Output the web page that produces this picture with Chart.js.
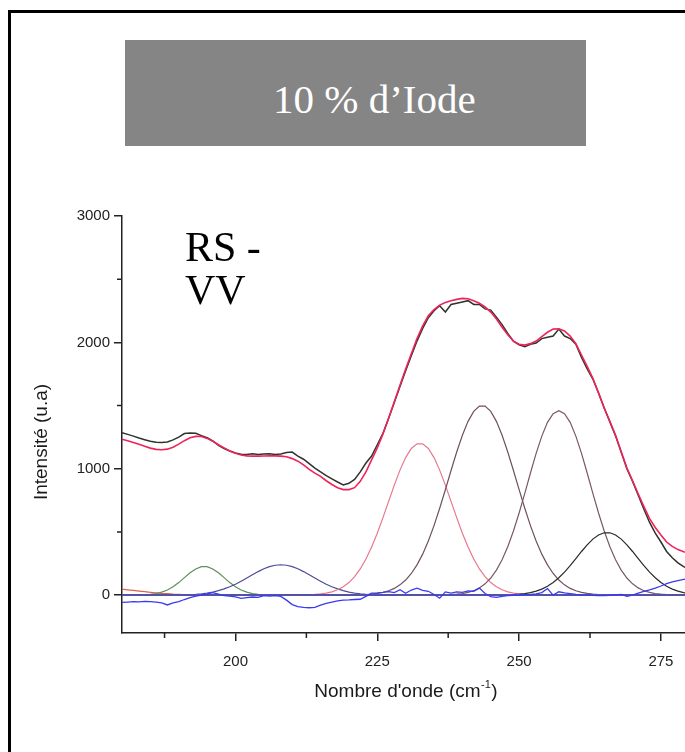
<!DOCTYPE html>
<html><head><meta charset="utf-8">
<script src="https://cdn.jsdelivr.net/npm/chart.js@4.4.1/dist/chart.umd.min.js"></script>
<style>
html,body{margin:0;padding:0;background:#fff;overflow:hidden;width:685px;height:752px;}
#frame{position:absolute;left:8px;top:10px;width:800px;height:800px;border-left:3px solid #000;border-top:3px solid #000;}
#banner{position:absolute;left:125px;top:40px;width:461px;height:106px;background:#858585;}
#banner span{position:absolute;left:148px;top:0;white-space:nowrap;color:#fff;font-family:'Liberation Serif','Times New Roman',serif;font-size:41px;line-height:118px;}
#label{position:absolute;left:185px;top:226px;font-family:'Liberation Serif','Times New Roman',serif;font-size:42px;line-height:43px;color:#000;}
#wrap{position:absolute;left:0;top:0;width:700px;height:752px;}
</style>
</head>
<body>
<div id="frame"></div>
<div id="banner"><span>10 % d’Iode</span></div>
<div id="wrap"><canvas id="c" width="700" height="752"></canvas></div>
<div id="label">RS -<br>VV</div>
<script>
// ---------- data ----------
const wavenumbers = [
180,181,182,183,184,185,186,187,188,189,
190,191,192,193,194,195,196,197,198,199,
200,201,202,203,204,205,206,207,208,209,
210,211,212,213,214,215,216,217,218,219,
220,221,222,223,224,225,226,227,228,229,
230,231,232,233,234,235,236,237,238,239,
240,241,242,243,244,245,246,247,248,249,
250,251,252,253,254,255,256,257,258,259,
260,261,262,263,264,265,266,267,268,269,
270,271,272,273,274,275,276,277,278,279,
280];

const experimental = [
1285,1272,1258,1243,1230,1218,1210,1208,1212,1228,
1250,1278,1282,1280,1262,1245,1220,1185,1160,1140,
1125,1115,1113,1118,1112,1116,1118,1113,1116,1128,
1132,1100,1075,1040,1005,975,945,920,895,872,
885,915,975,1045,1100,1190,1280,1400,1525,1650,
1775,1895,2010,2110,2195,2250,2290,2240,2300,2310,
2320,2330,2300,2300,2265,2255,2200,2140,2070,2010,
1980,1965,1985,1995,2030,2040,2050,2105,2050,2030,
1985,1880,1790,1710,1600,1480,1370,1260,1130,1000,
900,790,680,575,490,420,345,295,255,225,
205];

const fitSum = [
1233,1222,1208,1193,1178,1163,1153,1150,1155,1170,
1195,1222,1245,1256,1255,1240,1218,1190,1165,1140,
1122,1108,1102,1100,1100,1101,1102,1102,1100,1095,
1080,1060,1030,995,965,940,905,875,850,835,
835,850,900,975,1070,1165,1275,1400,1530,1660,
1790,1910,2030,2130,2210,2260,2295,2315,2330,2340,
2348,2345,2330,2310,2280,2240,2185,2120,2060,2010,
1985,1978,1990,2010,2045,2080,2105,2108,2090,2050,
1990,1900,1810,1715,1600,1480,1375,1265,1135,1005,
905,800,700,605,535,475,420,385,360,343,
335];

const peakLow = [
47,42,37,32,27,22,18,14,11,8,
6,4,2.5,1.5,1,0.5,0,0,0,0,
0,0,0,0,0,0,0,0,0,0,
0,0,0,0,0,0,0,0,0,0,
0,0,0,0,0,0,0,0,0,0,
0,0,0,0,0,0,0,0,0,0,
0,0,0,0,0,0,0,0,0,0,
0,0,0,0,0,0,0,0,0,0,
0,0,0,0,0,0,0,0,0,0,
0,0,0,0,0,0,0,0,0,0,
0];

const peak195 = [
0,0,0.4,1,2.5,6,12,23,40,66,
99,138,176,207,225,225,207,176,138,99,
66,40,23,12,6,2.5,1,0.4,0,0,
0,0,0,0,0,0,0,0,0,0,
0,0,0,0,0,0,0,0,0,0,
0,0,0,0,0,0,0,0,0,0,
0,0,0,0,0,0,0,0,0,0,
0,0,0,0,0,0,0,0,0,0,
0,0,0,0,0,0,0,0,0,0,
0,0,0,0,0,0,0,0,0,0,
0];

const peak208 = [
0,0,0,0,0,0,0,0,0.5,0.8,
1.4,2.4,4,6.6,10.5,16,24,35,49,66,
86,110,135,161,186,208,225,236,240,236,
225,208,186,161,135,110,86,66,49,35,
24,16,10.5,6.6,4,2.4,1.4,0.8,0,0,
0,0,0,0,0,0,0,0,0,0,
0,0,0,0,0,0,0,0,0,0,
0,0,0,0,0,0,0,0,0,0,
0,0,0,0,0,0,0,0,0,0,
0,0,0,0,0,0,0,0,0,0,
0];

const peak232 = [
0,0,0,0,0,0,0,0,0,0,
0,0,0,0,0,0,0,0,0,0,
0,0,0,0,0,0,0,0,0,0,
0,0.8,1.5,3,5,9,16,26,42,66,
99,146,207,285,380,490,613,742,870,989,
1088,1160,1197,1197,1160,1088,989,870,742,613,
490,380,285,207,146,99,66,42,26,16,
9,5,3,1.5,0.8,0,0,0,0,0,
0,0,0,0,0,0,0,0,0,0,
0,0,0,0,0,0,0,0,0,0,
0];

const peak243 = [
0,0,0,0,0,0,0,0,0,0,
0,0,0,0,0,0,0,0,0,0,
0,0,0,0,0,0,0,0,0,0,
0,0,0,0,0,0,0,0,0,0,
0.7,1.3,2.4,4.4,7.6,13,21,34,53,81,
119,171,239,324,428,550,687,834,986,1132,
1265,1375,1454,1495,1495,1454,1375,1265,1132,986,
834,687,550,428,324,239,171,119,81,53,
34,21,13,7.6,4.4,2.4,1.3,0.7,0,0,
0,0,0,0,0,0,0,0,0,0,
0];

const peak257 = [
0,0,0,0,0,0,0,0,0,0,
0,0,0,0,0,0,0,0,0,0,
0,0,0,0,0,0,0,0,0,0,
0,0,0,0,0,0,0,0,0,0,
0,0,0,0,0,0,0,0,0,0,
0,0,0,0,0,0.5,1,2,3.7,7,
12,21,35,57,89,135,198,280,383,507,
650,805,966,1121,1258,1367,1436,1460,1436,1367,
1258,1121,966,805,650,507,383,280,198,135,
89,57,35,21,12,7,3.7,2,1,0.5,
0];

const peak266 = [
0,0,0,0,0,0,0,0,0,0,
0,0,0,0,0,0,0,0,0,0,
0,0,0,0,0,0,0,0,0,0,
0,0,0,0,0,0,0,0,0,0,
0,0,0,0,0,0,0,0,0,0,
0,0,0,0,0,0,0,0,0,0,
0,0,0,0,0,0,0.5,1,2,4,
7,12,19,31,47,70,99,137,182,233,
289,345,398,443,476,493,493,476,443,398,
345,289,233,182,137,99,70,47,31,19,
12];

const residual = [
-58,-55,-52,-53,-50,-52,-55,-62,-78,-62,
-52,-35,-20,-8,0,10,20,8,-4,-8,
-14,-26,-20,-15,-18,-5,-8,-4,-10,-40,
-75,-92,-97,-100,-98,-80,-66,-55,-45,-40,
-38,-35,-33,-10,15,18,22,28,20,42,
15,40,55,38,30,5,-25,25,15,26,
22,34,30,55,12,-12,-18,-10,-5,-2,
0,3,5,10,20,52,0,26,18,12,
5,2,0,-3,-5,-4,-2,2,6,-10,
0,15,30,42,56,72,90,104,115,124,
130];

const baselineX = [180, 280];
const baselineY = [0, 0];

const xMajorTicks = [200, 225, 250, 275];
const xMinorTicks = [187.5, 212.5, 237.5, 262.5];
const yMajorTicks = [0, 1000, 2000, 3000];
const yMinorTicks = [500, 1500, 2500];

const xTitle = ["Nombre d'onde (cm", "-1", ")"];
const yTitle = "Intensité (u.a)";

// ---------- chart ----------
const axisColor = '#222';
const sansFont = '"Liberation Sans", Arial, Helvetica, sans-serif';
const pts = arr => wavenumbers.map((x, i) => ({x: x, y: arr[i]}));
const line = (label, arr, color, width, order) => ({
  label, data: pts(arr), borderColor: color, borderWidth: width,
  pointRadius: 0, fill: false, tension: 0, order
});

const datasets = [
  line('Somme', fitSum, '#ee2458', 1.6, 1),
  line('Expérience', experimental, '#2e332e', 1.5, 2),
  line('Résidu', residual, '#3a3af5', 1.3, 3),
  {label:'Ligne de base', data: baselineX.map((x,i)=>({x, y: baselineY[i]})), borderColor:'#5252a8', borderWidth:2, pointRadius:0, order:4},
  line('Pic 266', peak266, '#2a2a2a', 1.2, 5),
  line('Pic 257', peak257, '#7a5868', 1.2, 6),
  line('Pic 243', peak243, '#6f5060', 1.2, 7),
  line('Pic 232', peak232, '#e8788c', 1.2, 8),
  line('Pic 208', peak208, '#4c4c98', 1.2, 9),
  line('Pic 195', peak195, '#5e8e5c', 1.2, 10),
  line('Pic bas', peakLow, '#e06050', 1.2, 11),
];

const decor = {
  id: 'decor',
  afterDraw(chart) {
    const {ctx, chartArea: a, scales: {x, y}} = chart;
    ctx.save();
    ctx.strokeStyle = axisColor;
    ctx.lineWidth = 1.5;
    ctx.beginPath();
    xMinorTicks.forEach(v => { const px = x.getPixelForValue(v); ctx.moveTo(px, a.bottom); ctx.lineTo(px, a.bottom + 5); });
    yMinorTicks.forEach(v => { const py = y.getPixelForValue(v); ctx.moveTo(a.left, py); ctx.lineTo(a.left - 5, py); });
    ctx.stroke();

    ctx.fillStyle = '#1a1a1a';
    ctx.textBaseline = 'alphabetic';
    // y title
    ctx.save();
    ctx.font = '19px ' + sansFont;
    ctx.translate(47, 442);
    ctx.rotate(-Math.PI / 2);
    ctx.textAlign = 'center';
    ctx.fillText(yTitle, 0, 0);
    ctx.restore();
    // x title with superscript
    ctx.font = '19px ' + sansFont;
    const w1 = ctx.measureText(xTitle[0]).width;
    const w3 = ctx.measureText(xTitle[2]).width;
    ctx.font = '11px ' + sansFont;
    const w2 = ctx.measureText(xTitle[1]).width;
    let sx = 406 - (w1 + w2 + w3 + 1) / 2;
    const by = 697;
    ctx.textAlign = 'left';
    ctx.font = '19px ' + sansFont;
    ctx.fillText(xTitle[0], sx, by);
    ctx.font = '11px ' + sansFont;
    ctx.fillText(xTitle[1], sx + w1 + 0.5, by - 9);
    ctx.font = '19px ' + sansFont;
    ctx.fillText(xTitle[2], sx + w1 + w2 + 1, by);
    ctx.restore();
  }
};

new Chart(document.getElementById('c'), {
  type: 'line',
  data: { datasets },
  plugins: [decor],
  options: {
    responsive: false,
    animation: false,
    events: [],
    layout: { padding: { top: 216, right: 10.7, left: 0, bottom: 0 } },
    plugins: { legend: { display: false }, tooltip: { enabled: false } },
    scales: {
      x: {
        type: 'linear', min: 180, max: 280,
        afterBuildTicks: s => { s.ticks = xMajorTicks.map(v => ({value: v})); },
        afterFit: s => { s.height = 119; },
        grid: { drawOnChartArea: false, drawTicks: true, tickLength: 8, color: axisColor, lineWidth: 1.5 },
        border: { display: true, color: axisColor, width: 1.5 },
        ticks: { font: { size: 15, family: sansFont }, color: '#222', padding: 12, maxRotation: 0, autoSkip: false,
                 callback: v => String(v) }
      },
      y: {
        type: 'linear', min: -300, max: 3000,
        afterBuildTicks: s => { s.ticks = yMajorTicks.map(v => ({value: v})); },
        afterFit: s => { s.width = 122; },
        grid: { drawOnChartArea: false, drawTicks: true, tickLength: 8, color: axisColor, lineWidth: 1.5 },
        border: { display: true, color: axisColor, width: 1.5 },
        ticks: { font: { size: 15, family: sansFont }, color: '#222', padding: 4, autoSkip: false,
                 callback: v => String(v) }
      }
    }
  }
});
</script>
</body></html>
